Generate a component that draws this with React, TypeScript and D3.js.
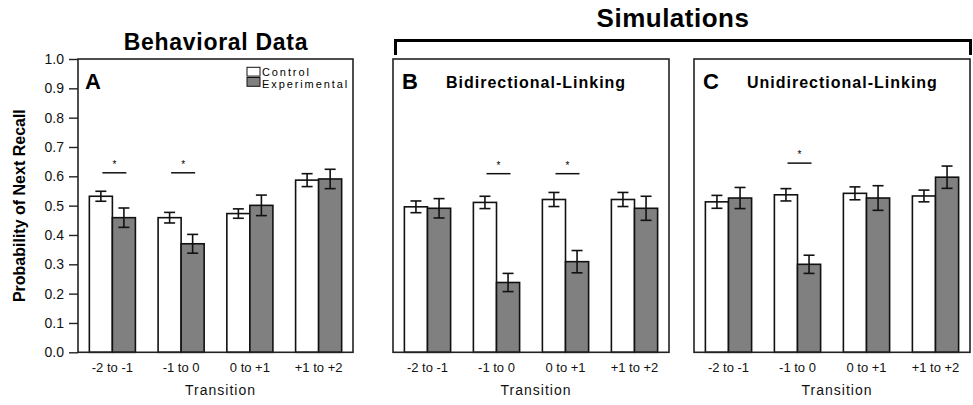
import { useEffect, useRef } from 'react';
import * as d3 from 'd3';

const transitions = ['-2 to -1', '-1 to 0', '0 to +1', '+1 to +2'];
const series = ['Control', 'Experimental'];
const yTicks = [0, 0.1, 0.2, 0.3, 0.4, 0.5, 0.6, 0.7, 0.8, 0.9, 1.0];

const behavioralControl = [0.532, 0.459, 0.473, 0.587];
const behavioralControlErr = [0.017, 0.018, 0.016, 0.022];
const behavioralExp = [0.459, 0.370, 0.501, 0.591];
const behavioralExpErr = [0.033, 0.032, 0.035, 0.033];

const bidirControl = [0.496, 0.511, 0.521, 0.521];
const bidirControlErr = [0.020, 0.021, 0.024, 0.024];
const bidirExp = [0.491, 0.238, 0.309, 0.491];
const bidirExpErr = [0.033, 0.031, 0.038, 0.041];

const unidirControl = [0.513, 0.537, 0.542, 0.533];
const unidirControlErr = [0.022, 0.021, 0.022, 0.020];
const unidirExp = [0.526, 0.300, 0.526, 0.597];
const unidirExpErr = [0.036, 0.031, 0.042, 0.038];

// significance markers: transition + height of the bar over it
const behavioralSig = [{ t: '-2 to -1', v: 0.612 }, { t: '-1 to 0', v: 0.612 }];
const bidirSig = [{ t: '-1 to 0', v: 0.609 }, { t: '0 to +1', v: 0.609 }];
const unidirSig = [{ t: '-1 to 0', v: 0.645 }];

const FONT = "Arial, 'Liberation Sans', sans-serif";
const GRAY = '#808080';

export default function App() {
  const ref = useRef<SVGSVGElement>(null);

  useEffect(() => {
    document.body.style.margin = '0';
    const svg = d3.select(ref.current);
    svg.selectAll('*').remove();

    const y = d3.scaleLinear().domain([0, 1]).range([352.3, 59]);

    const panels = [
      { x0: 78, x1: 353, letter: 'A', sub: '', control: behavioralControl, cErr: behavioralControlErr, exp: behavioralExp, eErr: behavioralExpErr, sig: behavioralSig },
      { x0: 393, x1: 669, letter: 'B', sub: 'Bidirectional-Linking', control: bidirControl, cErr: bidirControlErr, exp: bidirExp, eErr: bidirExpErr, sig: bidirSig },
      { x0: 694, x1: 970, letter: 'C', sub: 'Unidirectional-Linking', control: unidirControl, cErr: unidirControlErr, exp: unidirExp, eErr: unidirExpErr, sig: unidirSig },
    ];

    panels.forEach((p, pi) => {
      const g = svg.append('g');
      const x = d3.scaleBand().domain(transitions).range([p.x0, p.x1]).paddingInner(0.33).paddingOuter(0.165);
      const xs = d3.scaleBand().domain(series).range([0, x.bandwidth()]);

      // bars
      const rows = transitions.map((t, i) => ({
        t,
        vals: [
          { s: 'Control', v: p.control[i], e: p.cErr[i] },
          { s: 'Experimental', v: p.exp[i], e: p.eErr[i] },
        ],
      }));
      const grp = g.selectAll('g.grp').data(rows).join('g')
        .attr('transform', d => `translate(${x(d.t)},0)`);
      grp.selectAll('rect').data(d => d.vals).join('rect')
        .attr('x', d => xs(d.s)!)
        .attr('y', d => y(d.v))
        .attr('width', xs.bandwidth())
        .attr('height', d => y(0) - y(d.v))
        .style('fill', d => d.s === 'Control' ? '#fff' : GRAY)
        .style('stroke', '#111').style('stroke-width', 1.6);

      // error bars
      const eb = grp.selectAll('g.eb').data(d => d.vals).join('g')
        .attr('transform', d => `translate(${xs(d.s)! + xs.bandwidth() / 2},0)`)
        .style('stroke', '#111').style('stroke-width', 1.6);
      eb.append('line').attr('x1', 0).attr('x2', 0).attr('y1', d => y(d.v - d.e)).attr('y2', d => y(d.v + d.e));
      eb.append('line').attr('x1', -5.5).attr('x2', 5.5).attr('y1', d => y(d.v - d.e)).attr('y2', d => y(d.v - d.e));
      eb.append('line').attr('x1', -5.5).attr('x2', 5.5).attr('y1', d => y(d.v + d.e)).attr('y2', d => y(d.v + d.e));

      // significance
      p.sig.forEach(s => {
        const cx = x(s.t)! + x.bandwidth() / 2 + 2;
        g.append('line').attr('x1', cx - 12).attr('x2', cx + 12).attr('y1', y(s.v)).attr('y2', y(s.v))
          .style('stroke', '#111').style('stroke-width', 1.5);
        g.append('text').attr('x', cx).attr('y', y(s.v) - 5).attr('text-anchor', 'middle')
          .style('font-family', FONT).style('font-size', '10px').text('*');
      });

      // frame
      g.append('rect').attr('x', p.x0).attr('y', y(1)).attr('width', p.x1 - p.x0).attr('height', y(0) - y(1))
        .style('fill', 'none').style('stroke', '#222').style('stroke-width', 1.6);

      // x axis
      const xa = g.append('g').attr('transform', `translate(0,${y(0)})`)
        .call(d3.axisBottom(x).tickSize(0).tickPadding(10));
      xa.select('.domain').remove();
      xa.selectAll('text').style('font-family', FONT).style('font-size', '13px').style('fill', '#111');

      g.append('text').attr('x', (p.x0 + p.x1) / 2 + 5).attr('y', 395).attr('text-anchor', 'middle')
        .style('font-family', FONT).style('font-size', '14px').style('letter-spacing', '1px').style('fill', '#111')
        .text('Transition');

      // panel letter + subtitle
      g.append('text').attr('x', p.x0 + (pi === 0 ? 7 : 9)).attr('y', 88.5)
        .style('font-family', FONT).style('font-size', '22px').style('font-weight', 'bold').text(p.letter);
      if (p.sub) {
        g.append('text').attr('x', p.x0 + 53).attr('y', 88)
          .style('font-family', FONT).style('font-size', '16px').style('font-weight', 'bold').style('letter-spacing', '1px')
          .text(p.sub);
      }

      if (pi === 0) {
        const ya = g.append('g').attr('transform', `translate(${p.x0},0)`)
          .call(d3.axisLeft(y).tickValues(yTicks).tickSize(9).tickPadding(5).tickFormat(d3.format('.1f')));
        ya.select('.domain').remove();
        ya.selectAll('line').style('stroke', '#222').style('stroke-width', 1.4);
        ya.selectAll('text').style('font-family', FONT).style('font-size', '14px').style('fill', '#111');

        // legend
        const lg = g.append('g');
        series.forEach((s, i) => {
          lg.append('rect').attr('x', 247).attr('y', 67.3 + i * 10.2).attr('width', 13).attr('height', 8.8)
            .style('fill', s === 'Control' ? '#fff' : GRAY).style('stroke', '#111').style('stroke-width', 1);
          lg.append('text').attr('x', 262).attr('y', 75.5 + i * 12)
            .style('font-family', FONT).style('font-size', '11px').style('letter-spacing', '1.9px').text(s);
        });
      }
    });

    // y label
    svg.append('text').attr('transform', `translate(25,${(y(0) + y(1)) / 2}) rotate(-90)`)
      .attr('text-anchor', 'middle')
      .style('font-family', FONT).style('font-size', '16px').style('font-weight', 'bold')
      .text('Probability of Next Recall');

    // titles
    svg.append('text').attr('x', 216).attr('y', 50).attr('text-anchor', 'middle')
      .style('font-family', FONT).style('font-size', '23px').style('font-weight', 'bold').style('letter-spacing', '0.7px')
      .text('Behavioral Data');
    svg.append('text').attr('x', 673).attr('y', 27).attr('text-anchor', 'middle')
      .style('font-family', FONT).style('font-size', '26px').style('font-weight', 'bold').style('letter-spacing', '0.5px')
      .text('Simulations');

    // bracket over simulations
    svg.append('path').attr('d', `M395.5,55 V40.5 H970.5 V55`)
      .style('fill', 'none').style('stroke', '#000').style('stroke-width', 3);
  }, []);

  return (
    <svg ref={ref} width={973} height={405} style={{ display: 'block', background: '#fff' }} />
  );
}
